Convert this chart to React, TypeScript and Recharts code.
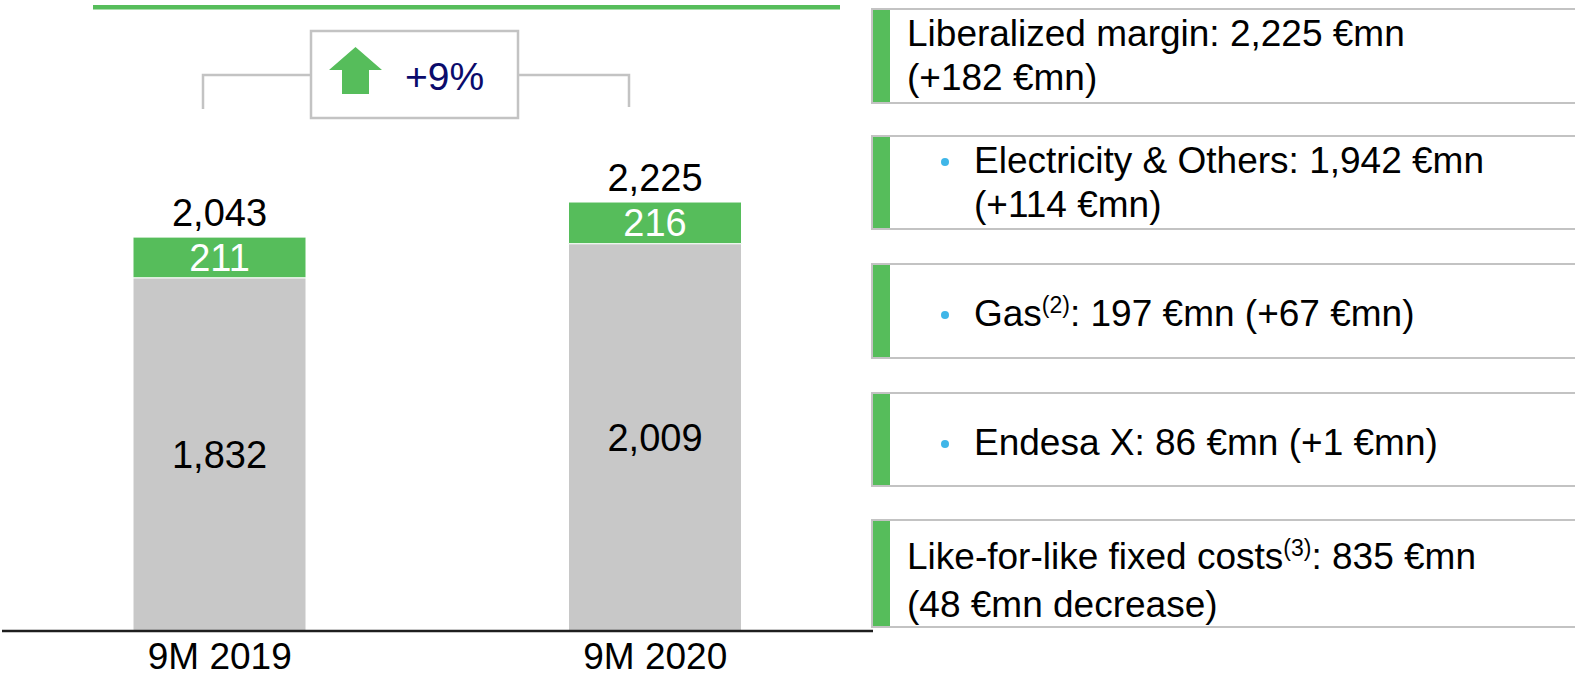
import React from "react";
import { Bar, BarChart, LabelList, XAxis, YAxis } from "recharts";

const categories = ["9M 2019", "9M 2020"];
const baseValues = [1832, 2009];
const topValues = [211, 216];
const totals = [2043, 2225];
const growthLabel = "+9%";

const GREEN = "#56bd5b";
const GRAY = "#c8c8c8";
const BORDER = "#c3c3c3";
const BULLET = "#3fb6e8";
const FONT = "'Liberation Sans', Arial, sans-serif";

const data = categories.map((cat, i) => ({
  cat,
  base: baseValues[i],
  top: topValues[i],
  total: totals[i],
}));

type Panel = {
  top: number;
  height: number;
  bullet?: boolean;
  padTop: number;
  lines: React.ReactNode[];
};

const sup = (t: string) => (
  <span style={{ fontSize: 23, verticalAlign: "baseline", position: "relative", top: -13 }}>{t}</span>
);

const panels: Panel[] = [
  { top: 8, height: 96, padTop: 0, lines: ["Liberalized margin: 2,225 €mn", "(+182 €mn)"] },
  { top: 135, height: 95, bullet: true, padTop: 0, lines: ["Electricity & Others: 1,942 €mn", "(+114 €mn)"] },
  { top: 263, height: 96, bullet: true, padTop: 10, lines: [<>Gas{sup("(2)")}: 197 €mn (+67 €mn)</>] },
  { top: 392, height: 95, bullet: true, padTop: 7, lines: ["Endesa X: 86 €mn (+1 €mn)"] },
  {
    top: 519,
    height: 109,
    padTop: 14,
    lines: [<>Like-for-like fixed costs{sup("(3)")}: 835 €mn</>, "(48 €mn decrease)"],
  },
];

function SidePanel({ p }: { p: Panel }) {
  return (
    <div
      style={{
        position: "absolute",
        left: 871,
        top: p.top,
        width: 720,
        height: p.height,
        boxSizing: "border-box",
        borderTop: `2px solid ${BORDER}`,
        borderBottom: `2px solid ${BORDER}`,
        borderLeft: `2px solid ${BORDER}`,
      }}
    >
      <div style={{ position: "absolute", left: 0, top: 0, bottom: 0, width: 17, background: GREEN }} />
      <div
        style={{
          position: "absolute",
          left: p.bullet ? 101 : 34,
          top: p.padTop,
          bottom: 0,
          display: "flex",
          flexDirection: "column",
          justifyContent: "center",
          fontSize: 37,
          lineHeight: "44px",
          color: "#000",
          whiteSpace: "nowrap",
        }}
      >
        {p.lines.map((l, i) => (
          <div key={i} style={{ position: "relative" }}>
            {p.bullet && i === 0 && (
              <span
                style={{
                  position: "absolute",
                  left: -33,
                  top: 19,
                  width: 8,
                  height: 8,
                  borderRadius: 4,
                  background: BULLET,
                }}
              />
            )}
            {l}
          </div>
        ))}
      </div>
    </div>
  );
}

export default function App() {
  return (
    <div
      style={{
        position: "absolute",
        left: 0,
        top: 0,
        width: 1575,
        height: 678,
        background: "#fff",
        fontFamily: FONT,
        overflow: "hidden",
      }}
    >
      <BarChart
        width={875}
        height={678}
        data={data}
        margin={{ top: 149, right: 2, left: 2, bottom: 0 }}
        barCategoryGap={0}
        style={{ fontFamily: FONT }}
      >
        <XAxis
          dataKey="cat"
          height={47}
          tickLine={false}
          axisLine={{ stroke: "#1e1e1e", strokeWidth: 2.5 }}
          tickMargin={6}
          tick={{ fill: "#000", fontSize: 37 }}
        />
        <YAxis hide domain={[0, 2500]} />
        <Bar dataKey="base" stackId="s" fill={GRAY} barSize={173} stroke="#fff" strokeWidth={1} isAnimationActive={false}>
          <LabelList dataKey="base" position="center" fill="#000" fontSize={38} formatter={(v: number) => v.toLocaleString("en-US")} />
        </Bar>
        <Bar dataKey="top" stackId="s" fill={GREEN} barSize={173} stroke="#fff" strokeWidth={1} isAnimationActive={false}>
          <LabelList dataKey="top" position="center" fill="#fff" fontSize={38} />
          <LabelList dataKey="total" position="top" offset={11} fill="#000" fontSize={38} formatter={(v: number) => v.toLocaleString("en-US")} />
        </Bar>
      </BarChart>

      <svg width={1575} height={678} style={{ position: "absolute", left: 0, top: 0, pointerEvents: "none" }}>
        <rect x={93} y={5} width={747} height={4.5} fill={GREEN} />
        <polyline points="203,109 203,75 311,75" fill="none" stroke={BORDER} strokeWidth={2.5} />
        <polyline points="518,75 629,75 629,107" fill="none" stroke={BORDER} strokeWidth={2.5} />
        <rect x={311} y={31} width={207} height={87} fill="#fff" stroke={BORDER} strokeWidth={2.5} />
        <polygon points="355.5,47 382,70 369,70 369,94 342,94 342,70 329,70" fill={GREEN} />
        <text x={405} y={90} fontSize={39} fill="#0b0b6b" fontFamily={FONT}>
          {growthLabel}
        </text>
      </svg>

      {panels.map((p, i) => (
        <SidePanel key={i} p={p} />
      ))}
    </div>
  );
}
